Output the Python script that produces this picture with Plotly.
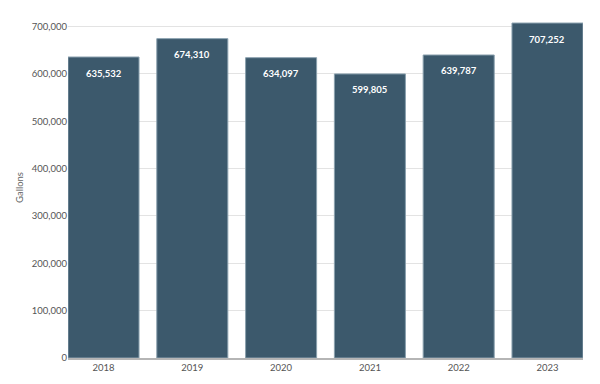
import plotly.graph_objects as go

years = ["2018", "2019", "2020", "2021", "2022", "2023"]
gallons = [635532, 674310, 634097, 599805, 639787, 707252]
tick_vals = [0, 100000, 200000, 300000, 400000, 500000, 600000, 700000]
tick_text = ["0", "100,000", "200,000", "300,000", "400,000", "500,000", "600,000", "700,000"]

# the page body adds an 8px offset; compensate
OFF = 8
R = 720000
h = 332 * R / 700000
top = 358 - h - OFF

fig = go.Figure(go.Bar(
    x=years, y=gallons,
    marker=dict(color="#3c596c", line=dict(color="#8aa0ae", width=1)),
    width=0.8,
    hoverinfo="skip",
))
for i, v in enumerate(gallons):
    fig.add_annotation(x=i, y=v, xref="x", yref="y", text=f"<b>{v:,}</b>", showarrow=False,
                       yanchor="middle", yshift=-16,
                       font=dict(family="Lato", size=9.5, color="white"))
fig.update_layout(
    width=600 - OFF, height=384 - OFF,
    margin=dict(l=68 - OFF, r=17, t=top, b=26),
    plot_bgcolor="white", paper_bgcolor="white",
    font=dict(family="Lato", color="#555555", size=9.5),
    showlegend=False,
)
fig.update_xaxes(type="category", range=[-0.4, 5.4], showgrid=False, ticks="", showline=True,
                 automargin=False, linecolor="#b5b5b5", linewidth=1.5,
                 tickfont=dict(size=9.5, color="#555555"))
fig.update_yaxes(range=[0, R], tickvals=tick_vals, ticktext=tick_text, automargin=False,
                 showgrid=True, gridcolor="#e3e3e3", gridwidth=1, zeroline=False,
                 title=dict(text="Gallons", font=dict(size=9.5, color="#666666"), standoff=6),
                 tickfont=dict(size=9.5, color="#555555"))
fig.write_html("out.html")
